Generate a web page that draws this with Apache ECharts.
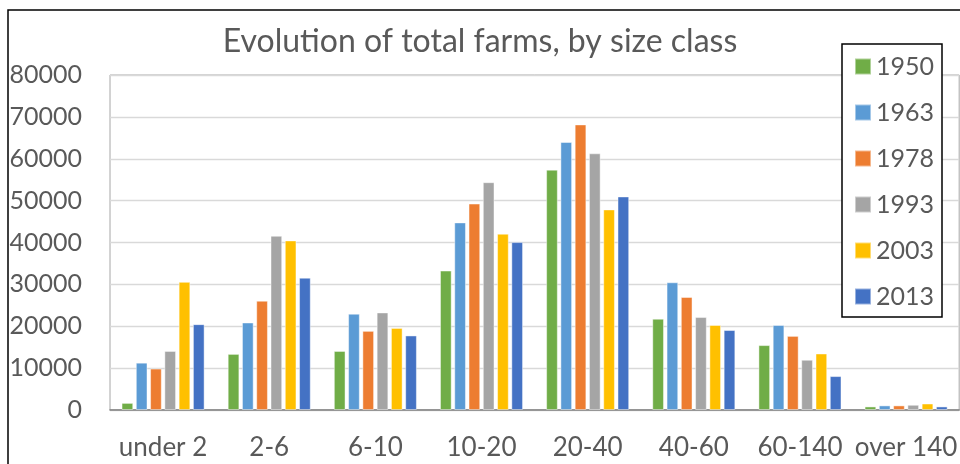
<!DOCTYPE html>
<html>
<head>
<meta charset="utf-8">
<script src="https://cdn.jsdelivr.net/npm/echarts@6/dist/echarts.min.js"></script>
<style>html,body{margin:0;padding:0;background:#fff;}#c{width:960px;height:464px;}</style>
</head>
<body>
<div id="c"></div>
<script>
const categories = ['under 2', '2-6', '6-10', '10-20', '20-40', '40-60', '60-140', 'over 140'];
const seriesNames = ['1950', '1963', '1978', '1993', '2003', '2013'];
const v1950 = [1700, 13400, 14100, 33300, 57400, 21800, 15500, 850];
const v1963 = [11300, 20900, 23000, 44800, 64000, 30500, 20300, 1100];
const v1978 = [9900, 26100, 18900, 49300, 68200, 27000, 17700, 1100];
const v1993 = [14100, 41600, 23300, 54400, 61300, 22200, 12000, 1250];
const v2003 = [30600, 40500, 19600, 42100, 47900, 20300, 13500, 1550];
const v2013 = [20500, 31600, 17800, 40100, 51000, 19100, 8100, 850];
const yTicks = [0, 10000, 20000, 30000, 40000, 50000, 60000, 70000, 80000];
const colors = ['#70AD47', '#5B9BD5', '#ED7D31', '#A5A5A5', '#FFC000', '#4472C4'];
const values = [v1950, v1963, v1978, v1993, v2003, v2013];

const FONT = 'Lato';
const chart = echarts.init(document.getElementById('c'), null, {renderer: 'canvas'});
chart.setOption({
  animation: false,
  backgroundColor: '#fff',
  color: colors,
  title: {
    text: 'Evolution of total farms, by size class',
    left: 'center',
    top: 21,
    textStyle: {fontFamily: FONT, fontSize: 32, fontWeight: 'normal', color: '#595959'}
  },
  graphic: [{
    type: 'rect', z: 0, silent: true,
    shape: {x: 8, y: 10, width: 1000, height: 500},
    style: {fill: 'none', stroke: '#000', lineWidth: 1.5}
  }],
  legend: {
    orient: 'vertical',
    left: 842, top: 44,
    backgroundColor: '#fff',
    borderColor: '#000', borderWidth: 1.5,
    padding: [10, 8, 8, 12],
    itemWidth: 16, itemHeight: 16, itemGap: 21,
    icon: 'rect',
    textStyle: {fontFamily: FONT, fontSize: 25, color: '#595959', lineHeight: 24},
    data: seriesNames,
    z: 10
  },
  grid: {
    left: 110, top: 75, bottom: 54, right: -5,
    show: true, borderColor: '#a6a6a6', borderWidth: 1, containLabel: false
  },
  xAxis: {
    type: 'category',
    data: categories,
    axisLine: {show: true, lineStyle: {color: '#808080', width: 1.5}},
    axisTick: {show: false},
    axisLabel: {fontFamily: FONT, fontSize: 26, color: '#595959', margin: 25, interval: 0, hideOverlap: false}
  },
  yAxis: {
    type: 'value',
    min: yTicks[0], max: yTicks[yTicks.length - 1], interval: 10000,
    axisLine: {show: false},
    axisTick: {show: false},
    splitLine: {lineStyle: {color: '#d9d9d9', width: 1.3}},
    axisLabel: {fontFamily: FONT, fontSize: 25, color: '#595959', margin: 28, formatter: v => String(v)}
  },
  series: seriesNames.map((n, i) => ({
    name: n,
    type: 'bar',
    data: values[i],
    barWidth: 11.7,
    barGap: '22%',
    itemStyle: {color: colors[i], borderColor: 'rgba(255,255,255,0.45)', borderWidth: 1}
  }))
});
</script>
</body>
</html>
